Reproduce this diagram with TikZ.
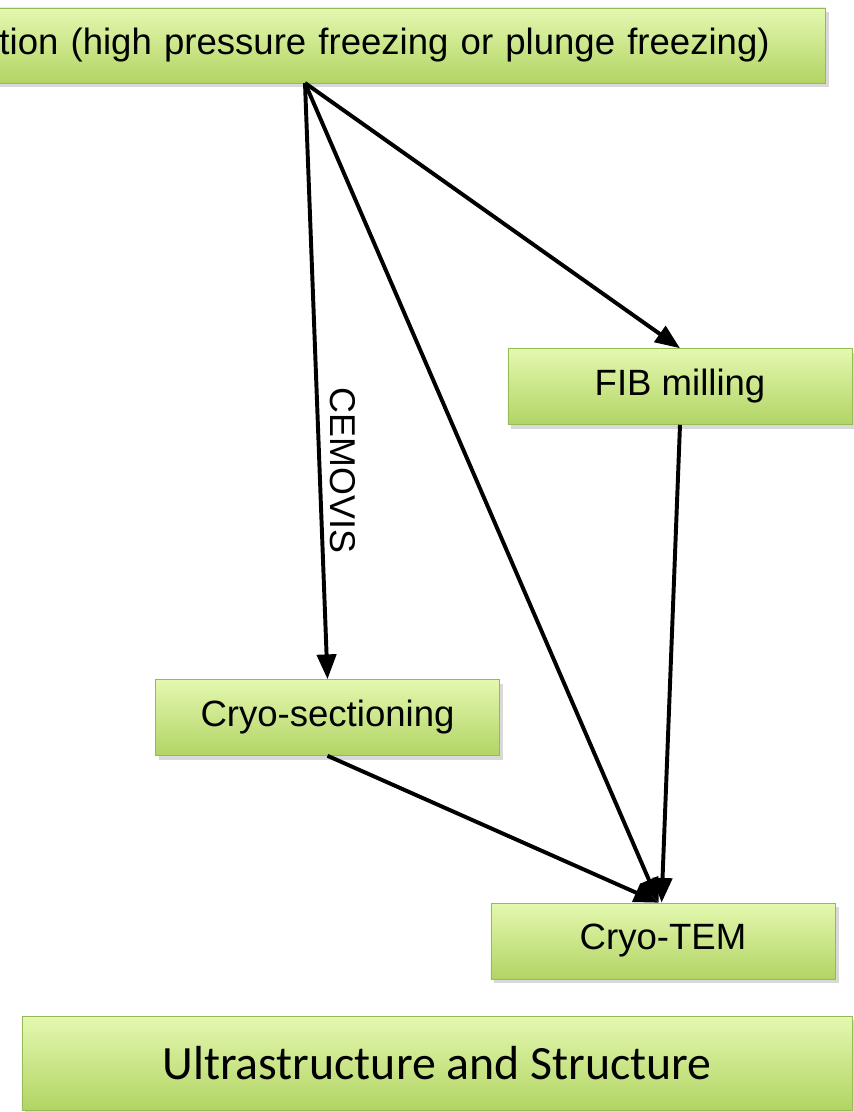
\documentclass[tikz,border=0pt]{standalone}
\usepackage{fontspec}
\setmainfont{Liberation Sans}
\newfontfamily\bodyfont{Carlito}
\usetikzlibrary{arrows.meta,shadows}
\definecolor{boxtop}{RGB}{228,248,176}
\definecolor{boxbot}{RGB}{178,212,100}
\definecolor{boxline}{RGB}{150,186,86}

\begin{document}
\begin{tikzpicture}[x=0.025cm, y=-0.025cm,
    stage/.style={rectangle, draw=boxline, thin, top color=boxtop, bottom color=boxbot, drop shadow={opacity=0.3, shadow xshift=2.5pt, shadow yshift=-3pt}, minimum width=8.6cm, minimum height=1.9cm, inner sep=2pt, align=center, font=\fontsize{26}{30}\selectfont},
    arrow/.style={-{Triangle[length=0.62cm, width=0.48cm]}, line width=2.8pt}
]
\useasboundingbox (0,0) rectangle (854,1112);
\node[stage, anchor=east, text width=24cm, align=right, inner xsep=1.4cm, minimum height=1.875cm] (prep) at (826,45.5) {tion (high pressure freezing or plunge freezing)};
\coordinate (fork) at (305,83);
\node[stage] (fib) at (680,386.5) {FIB milling};
\node[stage] (crysec) at (327.5,717.5) {Cryo-sectioning};
\node[stage] (tem) at (663,941) {Cryo-TEM};
\node[stage, minimum width=20.75cm, minimum height=2.35cm, font=\bodyfont\fontsize{34}{40}\selectfont] (result) at (437,1063) {Ultrastructure and Structure};

\draw[arrow] (fork) -- (fib.north);
\draw[arrow] (fork) -- node[pos=0.65, anchor=south, rotate=-90, inner sep=6pt, font=\fontsize{25.5}{30}\selectfont] (cemovis) {CEMOVIS} (crysec.north);
\draw[arrow] (fork) -- ([xshift=-3pt]tem.north);
\draw[arrow] (crysec.south) -- ([xshift=-3pt]tem.north);
\draw[arrow] (fib.south) -- ([xshift=-1pt]tem.north);
\end{tikzpicture}
\end{document}
